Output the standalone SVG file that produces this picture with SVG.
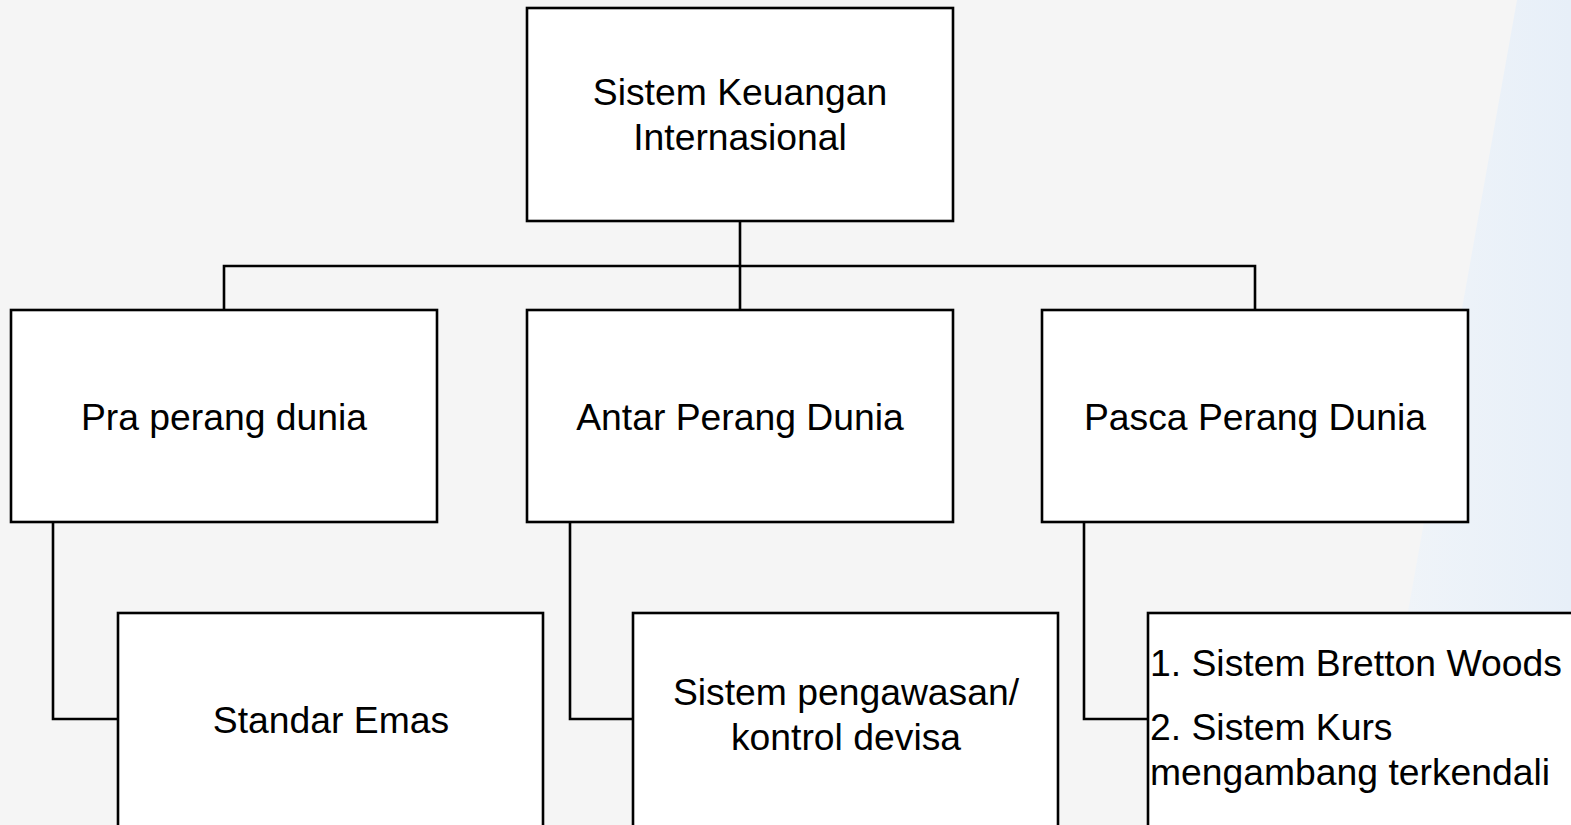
<svg xmlns="http://www.w3.org/2000/svg" width="1571" height="825" viewBox="0 0 1571 825">
<defs>
<linearGradient id="bg2" x1="0" y1="0" x2="1" y2="0">
<stop offset="0" stop-color="#f1f5f9"/>
<stop offset="1" stop-color="#e7eff8"/>
</linearGradient>
<style>
.box{fill:#fff;stroke:#000;stroke-width:2.6}
.t{font-family:"Liberation Sans",Arial,sans-serif;font-size:37.3px;fill:#000;text-anchor:middle}
.tl{font-family:"Liberation Sans",Arial,sans-serif;font-size:37.3px;fill:#000}
.c{fill:none;stroke:#000;stroke-width:2.6}
</style>
</defs>
<rect width="1571" height="825" fill="#f5f5f5"/>
<polygon points="1517,0 1571,0 1571,825 1370,825" fill="url(#bg2)"/>
<g id="connectors">
<path class="c" d="M740,221 V310 M224,310 V266 H1255 V310"/>
<path class="c" d="M53,522 V719 H118"/>
<path class="c" d="M570,522 V719 H633"/>
<path class="c" d="M1084,522 V719 H1148"/>
</g>
<g id="root">
<rect class="box" x="527" y="8" width="426" height="213"/>
<text class="t" x="740" y="105">Sistem Keuangan</text>
<text class="t" x="740" y="150">Internasional</text>
</g>
<g id="pra">
<rect class="box" x="11" y="310" width="426" height="212"/>
<text class="t" x="224" y="430">Pra perang dunia</text>
</g>
<g id="antar">
<rect class="box" x="527" y="310" width="426" height="212"/>
<text class="t" x="740" y="430">Antar Perang Dunia</text>
</g>
<g id="pasca">
<rect class="box" x="1042" y="310" width="426" height="212"/>
<text class="t" x="1255" y="430">Pasca Perang Dunia</text>
</g>
<g id="standar">
<rect class="box" x="118" y="613" width="425" height="230"/>
<text class="t" x="331" y="733">Standar Emas</text>
</g>
<g id="kontrol">
<rect class="box" x="633" y="613" width="425" height="230"/>
<text class="t" x="846" y="705">Sistem pengawasan/</text>
<text class="t" x="846" y="750">kontrol devisa</text>
</g>
<g id="sistem">
<rect class="box" x="1148" y="613" width="440" height="230"/>
<text class="tl" x="1150" y="676">1. Sistem Bretton Woods</text>
<text class="tl" x="1150" y="740">2. Sistem Kurs</text>
<text class="tl" x="1150" y="785">mengambang terkendali</text>
</g>
</svg>
